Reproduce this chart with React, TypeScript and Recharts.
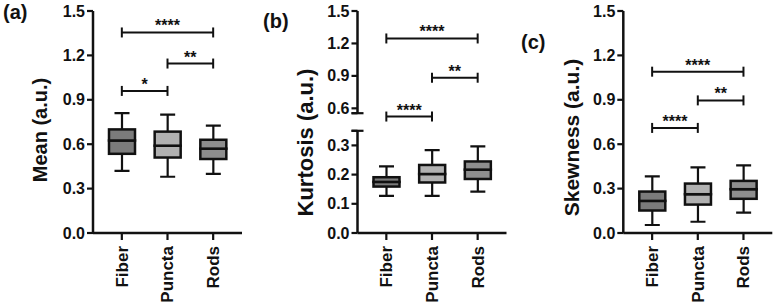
import React from 'react';
import { ComposedChart, Bar, XAxis, YAxis, ReferenceLine } from 'recharts';

const categories = ['Fiber', 'Puncta', 'Rods'];

// (a) Mean - box plot stats per category
const meanMin = [0.42, 0.38, 0.4];
const meanQ1 = [0.535, 0.51, 0.5];
const meanMedian = [0.625, 0.59, 0.57];
const meanQ3 = [0.7, 0.685, 0.63];
const meanMax = [0.81, 0.8, 0.725];

// (b) Kurtosis
const kurtMin = [0.127, 0.127, 0.142];
const kurtQ1 = [0.159, 0.173, 0.185];
const kurtMedian = [0.175, 0.202, 0.217];
const kurtQ3 = [0.191, 0.233, 0.245];
const kurtMax = [0.228, 0.284, 0.297];

// (c) Skewness
const skewMin = [0.054, 0.076, 0.137];
const skewQ1 = [0.152, 0.192, 0.231];
const skewMedian = [0.217, 0.262, 0.296];
const skewQ3 = [0.28, 0.334, 0.352];
const skewMax = [0.383, 0.444, 0.457];

const fullTicks = [0, 0.3, 0.6, 0.9, 1.2, 1.5];
const kurtLowTicks = [0, 0.1, 0.2, 0.3, 0.35];
const kurtHighTicks = [0.555, 0.6, 0.9, 1.2, 1.5];
const kurtBreaks = [0.35, 0.555];

type Bracket = { from: string; to: string; y: number; stars: string };

const meanBrackets: Bracket[] = [
  { from: 'Fiber', to: 'Rods', y: 1.355, stars: '****' },
  { from: 'Puncta', to: 'Rods', y: 1.145, stars: '**' },
  { from: 'Fiber', to: 'Puncta', y: 0.96, stars: '*' },
];
const kurtBrackets: Bracket[] = [
  { from: 'Fiber', to: 'Rods', y: 1.246, stars: '****' },
  { from: 'Puncta', to: 'Rods', y: 0.883, stars: '**' },
  { from: 'Fiber', to: 'Puncta', y: 0.524, stars: '****' },
];
const skewBrackets: Bracket[] = [
  { from: 'Fiber', to: 'Rods', y: 1.09, stars: '****' },
  { from: 'Puncta', to: 'Rods', y: 0.896, stars: '**' },
  { from: 'Fiber', to: 'Puncta', y: 0.71, stars: '****' },
];

const boxFills = ['#7b7b7b', '#b1b1b1', '#8e8e8e'];

const FONT = '"Liberation Sans", Arial, Helvetica, sans-serif';
const INK = '#111';
const PLOT_W = 149;
const X_PAD = 6;
const CAP_W = 15;

type Row = {
  name: string;
  base?: number;
  lowerWhisker?: number;
  lowerBox?: number;
  upperBox?: number;
  upperWhisker?: number;
};

const buildRows = (min: number[], q1: number[], med: number[], q3: number[], max: number[]): Row[] =>
  categories.map((name, i) => ({
    name,
    base: min[i],
    lowerWhisker: q1[i] - min[i],
    lowerBox: med[i] - q1[i],
    upperBox: q3[i] - med[i],
    upperWhisker: max[i] - q3[i],
  }));

const Whisker = (props: any, capAtTop: boolean) => {
  const { x, y, width, height } = props;
  const cx = x + width / 2;
  const capY = capAtTop ? y : y + height;
  return (
    <g>
      <line x1={cx} x2={cx} y1={y} y2={y + height} stroke={INK} strokeWidth={2.2} />
      <line x1={cx - CAP_W / 2} x2={cx + CAP_W / 2} y1={capY} y2={capY} stroke={INK} strokeWidth={2.2} />
    </g>
  );
};

const BoxHalf = (props: any) => {
  const { x, y, width, height, index } = props;
  return <rect x={x} y={y} width={width} height={height} fill={boxFills[index]} stroke={INK} strokeWidth={2.5} />;
};

const XTick = (props: any) => {
  const { x, y, payload } = props;
  return (
    <text
      transform={`translate(${x},${y}) rotate(-90)`}
      textAnchor="end"
      dy="0.35em"
      fontSize={17}
      fontWeight={700}
      fontFamily={FONT}
      fill={INK}
    >
      {payload.value}
    </text>
  );
};

const YTick = (props: any) => {
  const { x, y, payload, axisX, breaks } = props;
  if (breaks && breaks.includes(payload.value)) {
    return <line x1={axisX - 6} x2={axisX + 6} y1={y} y2={y} stroke={INK} strokeWidth={2.2} />;
  }
  return (
    <text x={x} y={y} dy="0.35em" textAnchor="end" fontSize={16} fontWeight={700} fontFamily={FONT} fill={INK}>
      {Number(payload.value).toFixed(1)}
    </text>
  );
};

const BracketShape = (props: any) => {
  const { x1, x2, y1, stars } = props;
  return (
    <g>
      <line x1={x1} x2={x2} y1={y1} y2={y1} stroke={INK} strokeWidth={2} />
      <line x1={x1} x2={x1} y1={y1 - 5} y2={y1 + 5} stroke={INK} strokeWidth={2} />
      <line x1={x2} x2={x2} y1={y1 - 5} y2={y1 + 5} stroke={INK} strokeWidth={2} />
      <text x={(x1 + x2) / 2} y={y1 - 1} textAnchor="middle" fontSize={16} fontWeight={700} fontFamily={FONT} fill={INK}>
        {stars}
      </text>
    </g>
  );
};

const AxisTitle = ({ x, y, text, size }: { x: number; y: number; text: string; size: number }) => (
  <text
    transform={`translate(${x},${y}) rotate(-90)`}
    textAnchor="middle"
    dy="0.3em"
    fontSize={size}
    fontWeight={700}
    fontFamily={FONT}
    fill={INK}
  >
    {text}
  </text>
);

interface PanelProps {
  left: number;
  width: number;
  height: number;
  axisWidth: number;
  plotTop: number;
  plotBottom: number;
  domain: [number, number];
  ticks: number[];
  breaks?: number[];
  rows?: Row[];
  brackets?: Bracket[];
  showXAxis: boolean;
  title?: { text: string; x: number; y: number; size: number };
}

function Panel(p: PanelProps) {
  const marginRight = p.width - p.axisWidth - PLOT_W;
  const data = p.rows ?? categories.map((name) => ({ name }));
  const title = p.title;
  return (
    <div style={{ position: 'absolute', left: p.left, top: 0 }}>
      <ComposedChart
        width={p.width}
        height={p.height}
        data={data}
        margin={{ top: p.plotTop, right: marginRight, bottom: p.showXAxis ? 0 : p.height - p.plotBottom, left: 0 }}
      >
        <XAxis
          dataKey="name"
          type="category"
          scale="band"
          hide={!p.showXAxis}
          height={p.height - p.plotBottom}
          padding={{ left: X_PAD, right: X_PAD }}
          axisLine={{ stroke: INK, strokeWidth: 2.5 }}
          tickLine={{ stroke: INK, strokeWidth: 2.2 }}
          tickSize={7}
          tickMargin={6}
          interval={0}
          tick={<XTick />}
        />
        <YAxis
          type="number"
          domain={p.domain}
          ticks={p.ticks}
          allowDataOverflow
          width={p.axisWidth}
          interval={0}
          axisLine={{ stroke: INK, strokeWidth: 2.5 }}
          tickLine={{ stroke: INK, strokeWidth: 2.2 }}
          tickSize={6}
          tickMargin={2}
          tick={(t: any) => <YTick {...t} axisX={p.axisWidth} breaks={p.breaks} />}
          label={title ? { content: () => <AxisTitle {...title} /> } : undefined}
        />
        {p.rows && (
          <Bar dataKey="base" stackId="box" barSize={26} shape={() => <g />} isAnimationActive={false} />
        )}
        {p.rows && (
          <Bar dataKey="lowerWhisker" stackId="box" barSize={26} shape={(s: any) => Whisker(s, false)} isAnimationActive={false} />
        )}
        {p.rows && (
          <Bar dataKey="lowerBox" stackId="box" barSize={26} shape={BoxHalf} isAnimationActive={false} />
        )}
        {p.rows && (
          <Bar dataKey="upperBox" stackId="box" barSize={26} shape={BoxHalf} isAnimationActive={false} />
        )}
        {p.rows && (
          <Bar dataKey="upperWhisker" stackId="box" barSize={26} shape={(s: any) => Whisker(s, true)} isAnimationActive={false} />
        )}
        {(p.brackets ?? []).map((b) => (
          <ReferenceLine
            key={`${b.from}-${b.to}`}
            segment={[
              { x: b.from, y: b.y },
              { x: b.to, y: b.y },
            ]}
            ifOverflow="visible"
            shape={(s: any) => <BracketShape {...s} stars={b.stars} />}
          />
        ))}
      </ComposedChart>
    </div>
  );
}

const letterStyle = (left: number, top: number): React.CSSProperties => ({
  position: 'absolute',
  left,
  top,
  fontFamily: FONT,
  fontWeight: 700,
  fontSize: 20,
  lineHeight: '20px',
  color: INK,
});

export default function App() {
  const meanRows = buildRows(meanMin, meanQ1, meanMedian, meanQ3, meanMax);
  const kurtRows = buildRows(kurtMin, kurtQ1, kurtMedian, kurtQ3, kurtMax);
  const skewRows = buildRows(skewMin, skewQ1, skewMedian, skewQ3, skewMax);

  return (
    <div style={{ position: 'absolute', left: 0, top: 0, width: 777, height: 305, background: '#fff', overflow: 'hidden' }}>
      <Panel
        left={0}
        width={252}
        height={305}
        axisWidth={93}
        plotTop={11}
        plotBottom={233}
        domain={[0, 1.5]}
        ticks={fullTicks}
        rows={meanRows}
        brackets={meanBrackets}
        showXAxis
        title={{ text: 'Mean (a.u.)', x: 41, y: 130, size: 20 }}
      />
      <Panel
        left={252}
        width={257.5}
        height={305}
        axisWidth={105.5}
        plotTop={130.8}
        plotBottom={233}
        domain={[0, 0.35]}
        ticks={kurtLowTicks}
        breaks={kurtBreaks}
        rows={kurtRows}
        showXAxis
        title={{ text: 'Kurtosis (a.u.)', x: 54, y: 142.5, size: 22 }}
      />
      <Panel
        left={252}
        width={257.5}
        height={135}
        axisWidth={105.5}
        plotTop={11}
        plotBottom={113.2}
        domain={[0.555, 1.5]}
        ticks={kurtHighTicks}
        breaks={kurtBreaks}
        brackets={kurtBrackets}
        showXAxis={false}
      />
      <Panel
        left={510}
        width={267}
        height={305}
        axisWidth={113.3}
        plotTop={11}
        plotBottom={233}
        domain={[0, 1.5]}
        ticks={fullTicks}
        rows={skewRows}
        brackets={skewBrackets}
        showXAxis
        title={{ text: 'Skewness (a.u.)', x: 62.5, y: 137.5, size: 21 }}
      />
      <div style={letterStyle(3, 2)}>(a)</div>
      <div style={letterStyle(263, 11)}>(b)</div>
      <div style={letterStyle(521, 32)}>(c)</div>
    </div>
  );
}
